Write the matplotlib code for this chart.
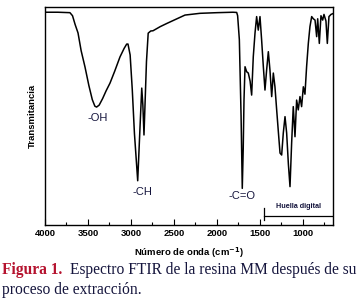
import numpy as np
import matplotlib
matplotlib.use('Agg')
import matplotlib.pyplot as plt
from matplotlib.ticker import MultipleLocator

# FTIR spectrum (wavenumber, transmittance %)
wavenumber = [4000, 3850, 3710, 3680, 3650, 3616, 3580, 3535, 3490, 3450, 3420, 3400, 3370,
              3330, 3290, 3244, 3190, 3128, 3080, 3050, 3035, 3010, 2985, 2960, 2922,
              2895, 2875, 2862, 2849, 2820, 2800, 2770, 2744, 2660, 2581,
              2372, 2198, 2000, 1814, 1771, 1760, 1740, 1720, 1706, 1695, 1686, 1674,
              1655, 1636, 1615, 1597, 1578, 1558, 1539, 1520, 1500, 1481, 1461, 1442,
              1423, 1403, 1384, 1364, 1345, 1326, 1306, 1285, 1267, 1248, 1229, 1209,
              1190, 1170, 1151, 1132, 1113, 1093, 1074, 1055, 1035, 1016, 996, 977,
              958, 938, 919, 899, 880, 860, 841, 829, 810, 791, 771, 756, 733, 717,
              698, 674, 650]
transmittance = [97.6, 97.6, 97.4, 96.0, 92.0, 88.1, 80.0, 72.5, 64.0, 57.5, 54.5, 54.1, 55.0,
                 58.0, 61.5, 65.1, 70.5, 77.1, 81.0, 83.0, 83.0, 78.0, 62.0, 42.0, 20.3,
                 45.0, 62.8, 55.0, 41.3, 75.0, 88.0, 89.0, 89.1, 91.0, 92.5,
                 96.3, 97.1, 97.4, 97.6, 97.5, 96.0, 85.0, 50.0, 16.8, 35.0, 57.3, 72.6,
                 70.3, 69.7, 66.0, 59.6, 77.2, 88.0, 95.6, 89.4, 95.6, 84.9, 72.6, 61.9,
                 71.0, 79.5, 71.0, 58.9, 69.7, 63.4, 52.8, 42.0, 33.0, 32.1, 42.2, 49.7,
                 42.2, 28.0, 17.6, 37.6, 54.3, 40.5, 57.3, 52.8, 58.9, 54.3, 63.4, 60.0,
                 72.6, 83.3, 91.0, 95.6, 94.6, 94.0, 86.4, 94.6, 83.3, 96.0, 94.0, 96.6,
                 93.6, 83.3, 95.6, 96.6, 97.0]

# peak labels
peak_labels = ['-OH', '-CH', '-C=O']
peak_x = [3387, 2869, 1706]
peak_y = [49.1, 15.0, 13.4]

navy = '#15153d'

fig = plt.figure(figsize=(3.63, 3.07), dpi=100)
ax = fig.add_axes([45/363, 1-225/307, 288/363, 218/307])

ax.plot(wavenumber, transmittance, color='black', lw=1.1)
ax.set_xlim(4000, 651)
ax.set_ylim(0, 100)
ax.set_yticks([])
ax.xaxis.set_major_locator(MultipleLocator(500))
ax.xaxis.set_minor_locator(MultipleLocator(250))
ax.tick_params(axis='x', which='both', direction='in', top=False, labelsize=6.8, pad=3)
ax.tick_params(axis='x', which='major', length=4, width=0.8)
ax.tick_params(axis='x', which='minor', length=2.5, width=0.8)
for lab in ax.get_xticklabels():
    lab.set_fontweight('bold')
    lab.set_fontfamily('Liberation Sans')
for s in ax.spines.values():
    s.set_linewidth(1.0)

for t, x, y in zip(peak_labels, peak_x, peak_y):
    ax.text(x, y, t, ha='center', va='center', fontsize=8, color=navy,
            family='Liberation Sans')

# fingerprint region bracket
ax.plot([1450, 663], [4.1, 4.1], color='black', lw=0.9)
ax.plot([1450, 1450], [2.3, 7.9], color='black', lw=0.9)
ax.text(1055, 8.6, 'Huella digital', ha='center', va='center', fontsize=5.2,
        color=navy, family='Liberation Sans', fontweight='bold')

ax.set_xlabel('Número de onda (cm$^{\\mathbf{-1}}$)', fontsize=6.8, fontweight='bold',
              family='Liberation Sans', labelpad=5)
ax.set_ylabel('Transmitancia', fontsize=6.8, fontweight='bold', family='Liberation Sans',
              labelpad=6)

fig.text(2/363, 1-270/307, 'Figura 1.', color='#b5122e', fontsize=11.2,
         family='Liberation Serif', fontweight='bold', va='center')
fig.text(70/363, 1-270/307, 'Espectro FTIR de la resina MM después de su',
         color=navy, fontsize=11.2, family='Liberation Serif', va='center')
fig.text(2/363, 1-290/307, 'proceso de extracción.', color=navy, fontsize=11.2,
         family='Liberation Serif', va='center')

fig.savefig('out.png', dpi=100)
